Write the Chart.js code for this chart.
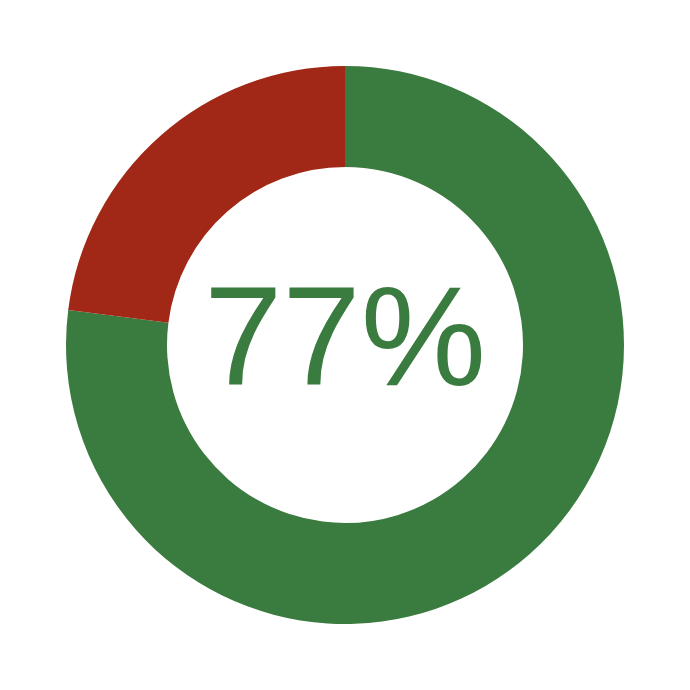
<!DOCTYPE html>
<html><head><meta charset="utf-8">
<script src="https://cdn.jsdelivr.net/npm/chart.js@4"></script>
<style>html,body{margin:0;padding:0;background:#fff;}#wrap{width:690px;height:690px;}</style>
</head><body><div id="wrap"><canvas id="c" width="690" height="690"></canvas></div>
<script>
const labels = ["Yes", "No"];
const values = [77, 23];
const colors = ["#3a7b3f", "#a12816"];
const centerText = "77%";

const centerPlugin = {
  id: 'centerText',
  afterDraw(chart) {
    const ctx = chart.ctx;
    const meta = chart.getDatasetMeta(0).data[0];
    ctx.save();
    ctx.font = '141px "Liberation Sans", Arial, sans-serif';
    ctx.fillStyle = colors[0];
    ctx.textAlign = 'center';
    ctx.textBaseline = 'alphabetic';
    ctx.fillText(centerText, meta.x, meta.y + 40);
    ctx.restore();
  }
};

new Chart(document.getElementById('c'), {
  type: 'doughnut',
  data: { labels: labels, datasets: [{ data: values, backgroundColor: colors, borderWidth: 0, hoverOffset: 0 }] },
  options: {
    responsive: false,
    animation: false,
    cutout: '63.8%',
    layout: { padding: 66 },
    plugins: { legend: { display: false }, tooltip: { enabled: false } }
  },
  plugins: [centerPlugin]
});
</script></body></html>
